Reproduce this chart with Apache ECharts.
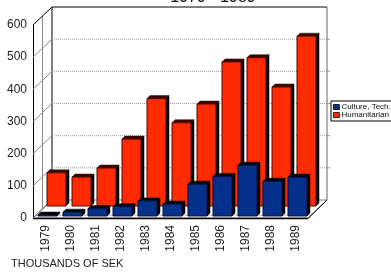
<!DOCTYPE html>
<html>
<head>
<meta charset="utf-8">
<script src="https://cdn.jsdelivr.net/npm/echarts@6/dist/echarts.min.js"></script>
<style>
html,body{margin:0;padding:0;background:#fff;}
#c{width:391px;height:273px;}
</style>
</head>
<body>
<div id="c"></div>
<script>
const years = ['1979','1980','1981','1982','1983','1984','1985','1986','1987','1988','1989'];
const cultureTech = [3, 12, 23, 29, 47, 37, 99, 123, 158, 108, 121];
const humanitarian = [103, 90, 118, 208, 334, 259, 317, 448, 461, 370, 528];
const yTicks = [0, 100, 200, 300, 400, 500, 600];
const titleText = '1979 - 1989';
const unitText = 'THOUSANDS OF SEK';

const FONT = 'Liberation Sans, Arial, sans-serif';
const DEPTH = [19, -18];
const BAR_W = 19;
const BAR_D = [3, -3];

const chart = echarts.init(document.getElementById('c'), null, {renderer: 'canvas'});

function renderFrame(params, api) {
  const cs = params.coordSys;
  const x0 = cs.x, x1 = cs.x + cs.width;
  const yb = cs.y + cs.height, yt = cs.y;
  const dx = DEPTH[0], dy = DEPTH[1];
  const ch = [];
  ch.push({type: 'polygon', shape: {points: [[x0, yb], [x1, yb], [x1 + dx, yb + dy], [x0 + dx, yb + dy]]},
    style: {fill: '#fff', stroke: '#777', lineWidth: 1}});
  ch.push({type: 'line', shape: {x1: x0 + 3, y1: yb - 3, x2: x1 + 3, y2: yb - 3}, style: {stroke: '#aaa', lineWidth: 1}});
  ch.push({type: 'line', shape: {x1: x0, y1: yb + 0.5, x2: x1, y2: yb + 0.5}, style: {stroke: '#000', lineWidth: 1.5}});
  ch.push({type: 'line', shape: {x1: x1, y1: yb + 0.5, x2: x1 + dx, y2: yb + dy}, style: {stroke: '#000', lineWidth: 1}});
  ch.push({type: 'line', shape: {x1: x0 + dx, y1: yt + dy, x2: x1 + dx, y2: yt + dy}, style: {stroke: '#000', lineWidth: 1}});
  ch.push({type: 'line', shape: {x1: x1 + dx, y1: yt + dy, x2: x1 + dx, y2: yb + dy}, style: {stroke: '#666', lineWidth: 1}});
  ch.push({type: 'line', shape: {x1: x0 + dx, y1: yt + dy, x2: x0 + dx, y2: yb + dy}, style: {stroke: '#000', lineWidth: 1}});
  ch.push({type: 'line', shape: {x1: x0 + dx / 2, y1: yt + dy / 2, x2: x0 + dx / 2, y2: yb + dy / 2}, style: {stroke: '#888', lineWidth: 1}});
  ch.push({type: 'line', shape: {x1: x0, y1: yt, x2: x0 + dx, y2: yt + dy}, style: {stroke: '#000', lineWidth: 1}});
  return {type: 'group', children: ch};
}

function renderGrid(params, api) {
  const cs = params.coordSys;
  const v = api.value(1);
  const y = api.coord([0, v])[1];
  const x0 = cs.x, x1 = cs.x + cs.width;
  const dx = DEPTH[0], dy = DEPTH[1];
  const ch = [];
  if (v > 0 && v < 600) {
    ch.push({type: 'line', shape: {x1: x0, y1: y, x2: x0 + dx, y2: y + dy}, style: {stroke: '#888', lineWidth: 1}});
    ch.push({type: 'line', shape: {x1: x0 + dx, y1: y + dy, x2: x1 + dx, y2: y + dy},
      style: {stroke: '#999', lineWidth: 1, lineDash: [1, 1]}});
    ch.push({type: 'line', shape: {x1: x1 + dx, y1: y + dy, x2: x1 + dx + 3, y2: y + dy}, style: {stroke: '#999', lineWidth: 1}});
  } else if (v === 0) {
    ch.push({type: 'line', shape: {x1: x0, y1: y, x2: x0 + dx, y2: y + dy}, style: {stroke: '#666', lineWidth: 1}});
  }
  return {type: 'group', children: ch};
}

function makeBarRenderer(off, face, top, side, edge) {
  return function (params, api) {
    const i = api.value(0);
    const base = api.coord([i, 0]);
    const tp = api.coord([i, api.value(1)]);
    const x = base[0] + off[0] - BAR_W / 2;
    const yB = base[1] + off[1];
    const yT = tp[1] + off[1];
    const w = BAR_W, d = BAR_D;
    const ch = [];
    ch.push({type: 'polygon', shape: {points: [[x + w, yT], [x + w + d[0], yT + d[1]], [x + w + d[0], yB + d[1]], [x + w, yB]]},
      style: {fill: side, stroke: side, lineWidth: 0.5}});
    ch.push({type: 'polygon', shape: {points: [[x, yT], [x + w, yT], [x + w + d[0], yT + d[1]], [x + d[0], yT + d[1]]]},
      style: {fill: top, stroke: top, lineWidth: 0.5}});
    ch.push({type: 'rect', shape: {x: x, y: yT, width: w, height: Math.max(yB - yT, 0.5)},
      style: {fill: face, stroke: edge, lineWidth: 1}});
    return {type: 'group', children: ch};
  };
}

const RED = '#ff2a00';
const BLUE = '#05308c';

chart.setOption({
  animation: false,
  backgroundColor: '#fff',
  grid: {left: 33, top: 25, width: 275, height: 193, containLabel: false},
  graphic: [
    {type: 'text', x: 213, y: 6, style: {text: titleText, font: '16px ' + FONT, fill: '#111', align: 'center', verticalAlign: 'bottom'}},
    {type: 'text', left: 11, top: 258, style: {text: unitText, font: '11px ' + FONT, fill: '#222'}}
  ],
  legend: {
    orient: 'vertical', left: 331, top: 101,
    itemWidth: 6, itemHeight: 5, itemGap: 0,
    padding: [2, 2, 2, 2],
    borderColor: '#000', borderWidth: 1,
    textStyle: {fontSize: 8, lineHeight: 6.5, fontFamily: FONT, color: '#111', padding: [0, 0, 0, -3]},
    itemStyle: {borderColor: '#000', borderWidth: 0.8},
    data: [{name: 'Culture, Tech.', icon: 'rect'}, {name: 'Humanitarian', icon: 'rect'}]
  },
  xAxis: {
    type: 'category', data: years,
    axisLine: {show: false}, axisTick: {show: false},
    axisLabel: {rotate: 90, margin: 7, fontSize: 12, fontFamily: FONT, color: '#222', padding: [4, 0, 0, 0]},
    splitLine: {show: false}
  },
  yAxis: {
    type: 'value', min: 0, max: 600, interval: 100,
    axisLine: {show: true, lineStyle: {color: '#000', width: 1}},
    axisTick: {show: false},
    axisLabel: {margin: 6, fontSize: 12, fontFamily: FONT, color: '#222'},
    splitLine: {show: false}
  },
  series: [
    {type: 'custom', name: 'frame', silent: true, z: 1, clip: false, renderItem: renderFrame, data: [[0, 0]]},
    {type: 'custom', name: 'grid', silent: true, z: 2, clip: false, renderItem: renderGrid,
      data: yTicks.map(v => [0, v])},
    {type: 'custom', name: 'Humanitarian', z: 3, clip: false, itemStyle: {color: RED},
      renderItem: makeBarRenderer([11, -12], RED, '#3a0800', '#000', '#4a0a00'),
      data: humanitarian.map((v, i) => [i, v])},
    {type: 'custom', name: 'Culture, Tech.', z: 4, clip: false, itemStyle: {color: BLUE},
      renderItem: makeBarRenderer([2, -2], BLUE, '#000', '#000', '#001040'),
      data: cultureTech.map((v, i) => [i, v])}
  ]
});
</script>
</body>
</html>
